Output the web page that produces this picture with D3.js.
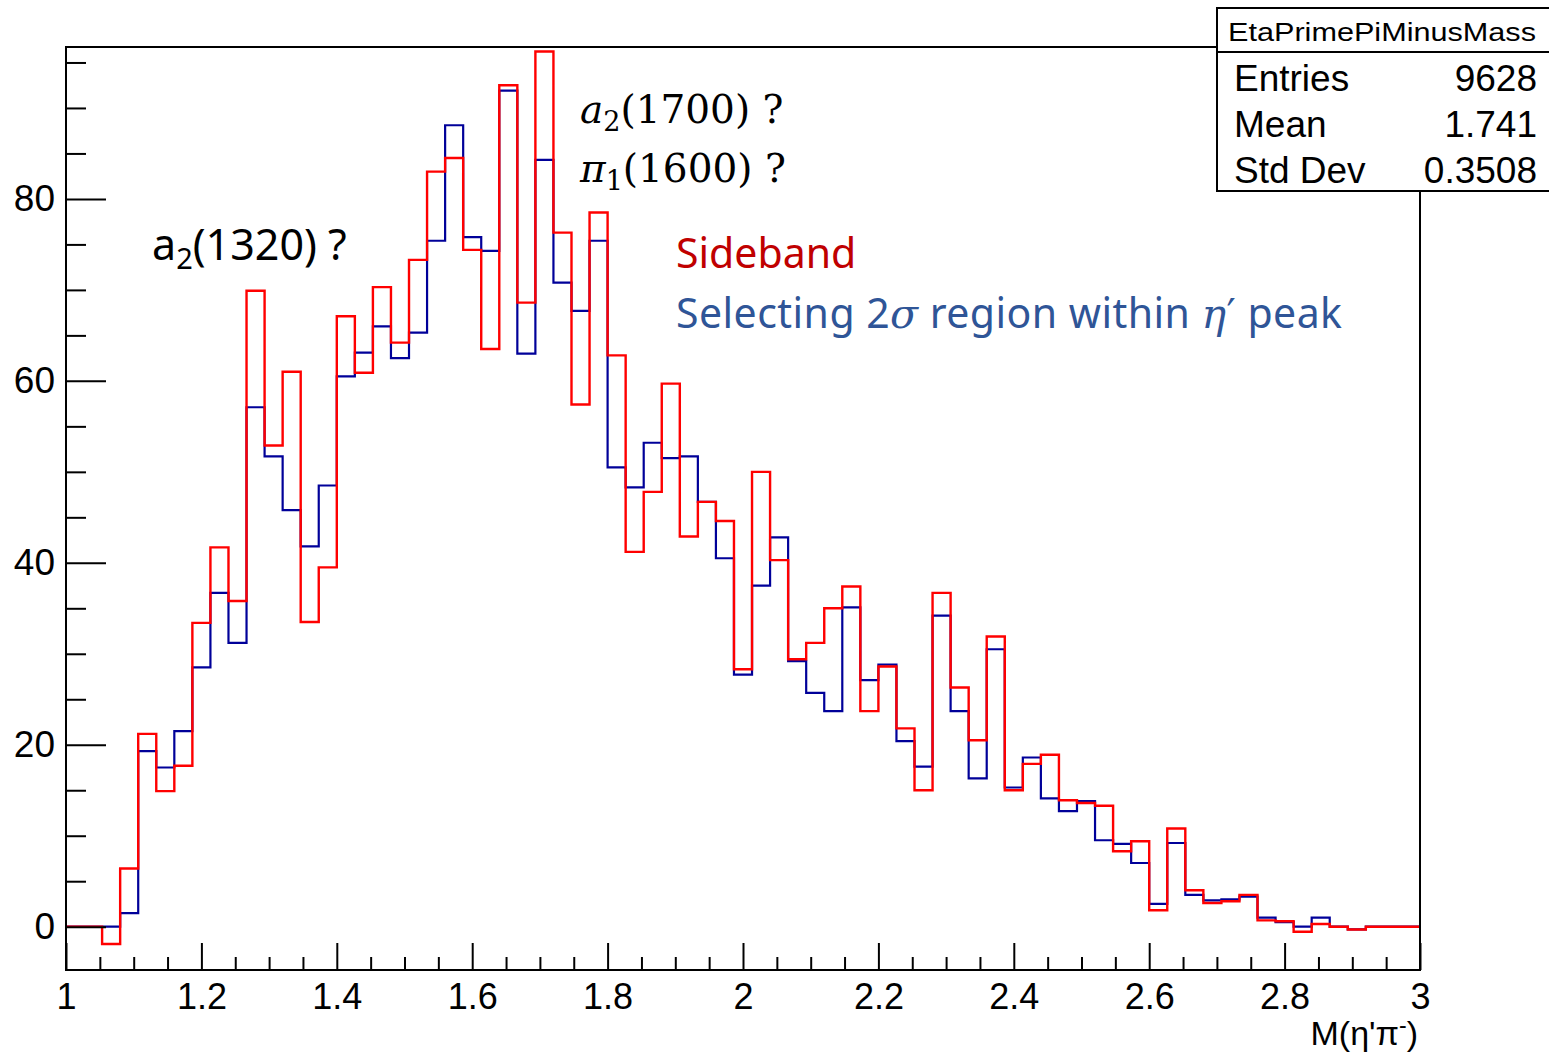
<!DOCTYPE html>
<html>
<head>
<meta charset="utf-8">
<script src="https://cdn.jsdelivr.net/npm/d3@7"></script>
<style>
  html, body { margin: 0; padding: 0; background: #fff; }
  svg { display: block; }
</style>
</head>
<body>
<svg id="chart" width="1549" height="1052"></svg>
<script>
// ---- data ----
const xMin = 1.0, xMax = 3.0, nBins = 75;
const xTickValues = [1, 1.2, 1.4, 1.6, 1.8, 2, 2.2, 2.4, 2.6, 2.8, 3];
const xTickLabels = ["1", "1.2", "1.4", "1.6", "1.8", "2", "2.2", "2.4", "2.6", "2.8", "3"];
const yTickValues = [0, 20, 40, 60, 80];
const yTickLabels = ["0", "20", "40", "60", "80"];
const yDomain = [-4.76, 96.7];

// signal region (blue)
const signalCounts = [
  0, 0, 0, 1.5, 19.3, 17.5, 21.5, 28.5, 36.7, 31.2,
  57.1, 51.7, 45.8, 41.8, 48.5, 60.5, 63.1, 66.0, 62.5, 65.3,
  75.4, 88.1, 75.8, 74.3, 91.9, 63.0, 84.3, 70.8, 67.7, 75.4,
  50.5, 48.3, 53.2, 51.5, 51.7, 46.7, 40.5, 27.7, 37.5, 42.8,
  29.2, 25.7, 23.7, 35.1, 27.1, 28.8, 20.4, 17.6, 34.2, 23.7,
  16.3, 30.5, 15.3, 18.6, 14.1, 12.7, 13.8, 9.5, 9.1, 7.0,
  2.5, 9.2, 3.5, 2.9, 3.0, 3.3, 1.0, 0.5, 0, 1.0,
  0, -0.3, 0, 0, 0
];
// sideband (red)
const sidebandCounts = [
  0, 0, -1.9, 6.4, 21.2, 14.9, 17.7, 33.4, 41.7, 35.8,
  69.9, 52.9, 61.0, 33.5, 39.5, 67.1, 60.9, 70.3, 64.2, 73.3,
  83.0, 84.5, 74.4, 63.5, 92.5, 68.6, 96.2, 76.3, 57.4, 78.5,
  62.8, 41.2, 47.8, 59.7, 42.9, 46.7, 44.6, 28.3, 50.0, 40.3,
  29.4, 31.2, 35.0, 37.4, 23.7, 28.6, 21.8, 15.0, 36.7, 26.3,
  20.5, 31.9, 15.0, 17.9, 18.9, 13.9, 13.6, 13.3, 8.3, 9.4,
  1.8, 10.8, 4.0, 2.6, 2.8, 3.5, 0.7, 0.6, -0.55, 0.3,
  0, -0.3, 0, 0, 0
];
const statsTitle = "EtaPrimePiMinusMass";
const statsRows = [["Entries", "9628"], ["Mean", "1.741"], ["Std Dev", "0.3508"]];

// ---- layout ----
const svg = d3.select("#chart");
const L = 66, R = 1420, T = 47, B = 970;
const x = d3.scaleLinear().domain([xMin, xMax]).range([L, R]);
const y = d3.scaleLinear().domain(yDomain).range([B, T]);
const binW = (xMax - xMin) / nBins;
const AX_FONT = "'Liberation Sans', Arial, Helvetica, sans-serif";

// clip
svg.append("defs").append("clipPath").attr("id", "plotclip")
  .append("rect").attr("x", L).attr("y", T).attr("width", R - L).attr("height", B - T);

function stepPoints(counts) {
  const pts = counts.map((v, i) => [xMin + i * binW, v]);
  pts.push([xMax, counts[counts.length - 1]]);
  return pts;
}
const line = d3.line().x(d => x(d[0])).y(d => y(d[1])).curve(d3.curveStepAfter);

const g = svg.append("g").attr("clip-path", "url(#plotclip)");
g.append("path").attr("d", line(stepPoints(signalCounts)))
  .attr("fill", "none").attr("stroke", "#000099").attr("stroke-width", 2.2);
g.append("path").attr("d", line(stepPoints(sidebandCounts)))
  .attr("fill", "none").attr("stroke", "#ff0000").attr("stroke-width", 2.4);

// axes
const xMinor = d3.range(0, 41).map(i => xMin + i * 0.05).filter(v => xTickValues.every(t => Math.abs(t - v) > 1e-6));
svg.append("g").attr("transform", `translate(0,${B})`)
  .call(d3.axisBottom(x).tickValues(xMinor).tickSize(-13).tickFormat(""))
  .call(a => a.select(".domain").remove())
  .selectAll("line").attr("stroke", "#000").attr("stroke-width", 2);
const xAx = svg.append("g").attr("transform", `translate(0,${B})`)
  .call(d3.axisBottom(x).tickValues(xTickValues).tickSize(-27).tickPadding(13)
    .tickFormat((d, i) => xTickLabels[i]));
xAx.select(".domain").remove();
xAx.selectAll("line").attr("stroke", "#000").attr("stroke-width", 2);
xAx.selectAll("text").attr("font-family", AX_FONT).attr("font-size", 36).attr("fill", "#000");

const yMinor = d3.range(0, 20).map(i => i * 5).filter(v => v <= yDomain[1] && !yTickValues.includes(v));
svg.append("g").attr("transform", `translate(${L},0)`)
  .call(d3.axisLeft(y).tickValues(yMinor).tickSize(-20).tickFormat(""))
  .call(a => a.select(".domain").remove())
  .selectAll("line").attr("stroke", "#000").attr("stroke-width", 2);
const yAx = svg.append("g").attr("transform", `translate(${L},0)`)
  .call(d3.axisLeft(y).tickValues(yTickValues).tickSize(-40).tickPadding(11)
    .tickFormat((d, i) => yTickLabels[i]));
yAx.select(".domain").remove();
yAx.selectAll("line").attr("stroke", "#000").attr("stroke-width", 2);
yAx.selectAll("text").attr("font-family", AX_FONT).attr("font-size", 37).attr("fill", "#000");

// frame
svg.append("rect").attr("x", L).attr("y", T).attr("width", R - L).attr("height", B - T)
  .attr("fill", "none").attr("stroke", "#000").attr("stroke-width", 2);

// x axis title
const xt = svg.append("text").attr("x", R - 2).attr("y", 1045).attr("text-anchor", "end")
  .attr("font-family", AX_FONT).attr("font-size", 34).attr("fill", "#000");
xt.append("tspan").text("M(η'π");
xt.append("tspan").attr("dy", -12).attr("font-size", 23).text("-");
xt.append("tspan").attr("dy", 12).text(")");

// stats box
const sb = svg.append("g");
sb.append("rect").attr("x", 1217).attr("y", 8).attr("width", 345).attr("height", 183)
  .attr("fill", "#fff").attr("stroke", "#000").attr("stroke-width", 2);
sb.append("line").attr("x1", 1217).attr("x2", 1560).attr("y1", 52).attr("y2", 52)
  .attr("stroke", "#000").attr("stroke-width", 2);
sb.append("text").attr("x", 1228).attr("y", 41).attr("font-family", AX_FONT).attr("font-size", 26)
  .attr("textLength", 308).attr("lengthAdjust", "spacingAndGlyphs").text(statsTitle);
statsRows.forEach((r, i) => {
  const yy = 91 + i * 46;
  sb.append("text").attr("x", 1234).attr("y", yy).attr("font-family", AX_FONT).attr("font-size", 37).text(r[0]);
  sb.append("text").attr("x", 1537).attr("y", yy).attr("text-anchor", "end").attr("font-family", AX_FONT).attr("font-size", 37).text(r[1]);
});

// annotations
const ANN = "'Noto Sans', 'Open Sans', sans-serif";
const SERIF = "'DejaVu Serif', 'Liberation Serif', serif";
const a1 = svg.append("text").attr("x", 152).attr("y", 260).attr("font-family", ANN).attr("font-size", 43).attr("fill", "#000");
a1.append("tspan").text("a");
a1.append("tspan").attr("dy", 9).attr("font-size", 29).text("2");
a1.append("tspan").attr("dy", -9).text("(1320) ?");

const a2 = svg.append("text").attr("x", 580).attr("y", 123).attr("font-family", SERIF).attr("font-size", 39).attr("fill", "#000");
a2.append("tspan").attr("font-style", "italic").text("a");
a2.append("tspan").attr("dy", 8).attr("font-size", 27).text("2");
a2.append("tspan").attr("dy", -8).text("(1700) ?");

const a3 = svg.append("text").attr("x", 580).attr("y", 182).attr("font-family", SERIF).attr("font-size", 39).attr("fill", "#000");
a3.append("tspan").attr("font-style", "italic").text("π");
a3.append("tspan").attr("dy", 8).attr("font-size", 27).text("1");
a3.append("tspan").attr("dy", -8).text("(1600) ?");

svg.append("text").attr("x", 676).attr("y", 268).attr("font-family", ANN).attr("font-size", 41)
  .attr("fill", "#c00000").text("Sideband");
const s2 = svg.append("text").attr("x", 676).attr("y", 328).attr("font-family", ANN).attr("font-size", 41)
  .attr("fill", "#2f5597").attr("textLength", 666).attr("lengthAdjust", "spacing");
s2.append("tspan").text("Selecting 2");
s2.append("tspan").attr("font-family", SERIF).attr("font-style", "italic").text("σ");
s2.append("tspan").text(" region within ");
s2.append("tspan").attr("font-family", SERIF).attr("font-style", "italic").text("η");
s2.append("tspan").attr("font-family", SERIF).text("′");
s2.append("tspan").text(" peak");
</script>
</body>
</html>
